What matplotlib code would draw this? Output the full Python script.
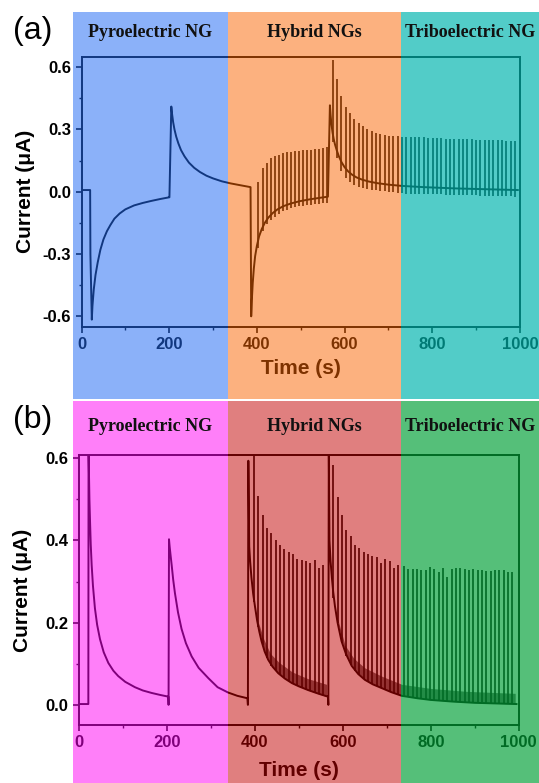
import matplotlib
matplotlib.use("Agg")
import matplotlib.pyplot as plt
from matplotlib.patches import Rectangle
from matplotlib.ticker import MultipleLocator, FormatStrFormatter

plt.rcParams['font.family'] = ['Liberation Sans', 'DejaVu Sans']
plt.rcParams['font.weight'] = 'bold'
plt.rcParams['axes.unicode_minus'] = False

# ---- panel (a): slow pyroelectric current (uA) vs time (s)
a_t = [0, 19.7, 20.3, 23.5, 25, 28, 32, 37, 43, 50, 58, 66, 75, 87, 100, 120,
       140, 160, 180, 200,
       200.5, 204.8, 206.5, 209, 212, 216, 221, 227, 235, 245, 257, 270, 285,
       300, 320, 340, 360, 385.5,
       387, 388.5, 390.5, 393, 396, 400, 405, 411, 418, 426, 436, 447, 460,
       477, 497, 520, 545, 562,
       566.5, 568, 570, 572.5, 575, 578, 582, 587, 593, 600, 608, 617, 627,
       640, 655, 675, 700, 730, 780, 850, 920, 995]
a_i = [0.008, 0.008, -0.3, -0.616, -0.55, -0.47, -0.40, -0.34, -0.28, -0.23,
       -0.19, -0.16, -0.13, -0.105, -0.085, -0.066, -0.054, -0.044, -0.035,
       -0.027,
       -0.027, 0.41, 0.375, 0.335, 0.30, 0.265, 0.232, 0.20, 0.17, 0.14,
       0.115, 0.095, 0.077, 0.064, 0.05, 0.04, 0.032, 0.022,
       -0.60, -0.52, -0.44, -0.37, -0.31, -0.26, -0.215, -0.18, -0.15, -0.125,
       -0.103, -0.085, -0.07, -0.057, -0.046, -0.037, -0.029, -0.024,
       0.416, 0.37, 0.325, 0.285, 0.255, 0.228, 0.20, 0.17, 0.142, 0.118,
       0.098, 0.082, 0.069, 0.058, 0.049, 0.041, 0.034, 0.028, 0.022, 0.016,
       0.012, 0.008]

# panel (a): triboelectric spikes (time, top, bottom)
a_spk_t = [403.2, 413.2, 422.3, 431.4, 441.3, 450.4, 459.5, 468.6, 477.7,
           486.9, 496.0, 505.0, 514.2, 523.3, 532.4, 541.6, 550.7, 559.0,
           572.8, 582.7, 592.6, 602.5, 612.4, 622.3, 632.2, 642.1, 652.0,
           661.9, 671.8, 681.7, 691.6, 701.5, 711.4, 721.3, 731.2, 741.1,
           751.0, 760.9, 770.8, 780.7, 790.6, 800.5, 810.4, 820.3, 830.2,
           840.1, 850.0, 859.9, 869.8, 879.7, 889.6, 899.5, 909.4, 919.3,
           929.2, 939.1, 949.0, 958.9, 968.8, 978.7, 988.6]
a_spk_hi = [0.048, 0.112, 0.139, 0.160, 0.171, 0.179, 0.184, 0.189, 0.192,
            0.195, 0.197, 0.200, 0.202, 0.203, 0.205, 0.206, 0.208, 0.213,
            0.632, 0.544, 0.461, 0.408, 0.381, 0.352, 0.331, 0.315, 0.301,
            0.291, 0.283, 0.277, 0.272, 0.269, 0.267, 0.266, 0.265,
            0.264, 0.264, 0.263, 0.262, 0.262, 0.260, 0.259, 0.258, 0.257,
            0.256, 0.256, 0.255, 0.254, 0.253, 0.252, 0.252, 0.251, 0.250,
            0.250, 0.249, 0.248, 0.248, 0.247, 0.246, 0.245, 0.244]
a_spk_lo = [-0.27, -0.19, -0.155, -0.135, -0.12, -0.105, -0.093, -0.087, -0.08,
            -0.075, -0.07, -0.068, -0.065, -0.062, -0.06, -0.058, -0.056, -0.054,
            0.24, 0.16, 0.10, 0.065, 0.047, 0.033, 0.024, 0.018, 0.013,
            0.010, 0.007, 0.005, 0.002, -0.001, -0.003, -0.005, -0.008,
            -0.009, -0.009, -0.010, -0.010, -0.011, -0.012, -0.012, -0.013,
            -0.013, -0.014, -0.015, -0.015, -0.016, -0.017, -0.017, -0.018,
            -0.018, -0.019, -0.020, -0.020, -0.021, -0.022, -0.022, -0.023,
            -0.023, -0.024]

# ---- panel (b): rectified output
b_t = [0, 21, 21.5, 22.5, 23.5, 24.8, 26.5, 28.6, 31.5, 36, 41, 47.5, 56,
       66.5, 78, 89, 105, 127, 145, 165, 185, 203, 203.5,
       204.5, 206, 208, 210.6, 214, 218, 225, 233, 243, 256, 272, 294, 315,
       339, 360, 383, 384,
       385, 387, 389, 392, 396, 400, 405, 410, 415, 422, 430, 440, 453, 468,
       484, 500, 521, 545, 566, 567,
       568, 569.5, 572, 575, 578, 582, 588, 597, 607, 620, 635, 650, 668,
       688, 710, 734, 770, 800, 850, 900, 995]
b_i = [0.002, 0.002, 0.62, 0.56, 0.50, 0.45, 0.39, 0.34, 0.29, 0.235, 0.195,
       0.16, 0.128, 0.102, 0.083, 0.07, 0.056, 0.043, 0.035, 0.029, 0.024,
       0.02, 0.0,
       0.403, 0.385, 0.365, 0.34, 0.305, 0.272, 0.225, 0.185, 0.15, 0.118,
       0.09, 0.065, 0.043, 0.03, 0.022, 0.016, 0.0,
       0.594, 0.385, 0.35, 0.31, 0.27, 0.24, 0.205, 0.178, 0.155, 0.13,
       0.11, 0.093, 0.077, 0.064, 0.053, 0.045, 0.036, 0.027, 0.02, 0.0,
       0.62, 0.40, 0.35, 0.31, 0.275, 0.24, 0.20, 0.155, 0.124, 0.095,
       0.075, 0.061, 0.05, 0.041, 0.031, 0.022, 0.016, 0.012, 0.008, 0.005,
       0.002]

b_spk_t = [398.6, 407.7, 417.6, 427.4, 437.3, 447.2, 457.0, 466.9, 476.8,
           486.6, 496.5, 506.4, 516.2, 526.1, 536.0, 545.8, 555.7,
           578.3, 588.2, 598.0, 607.9, 617.8, 627.6, 637.5, 647.4, 657.2,
           667.0, 677.0, 686.8, 696.6, 706.5, 716.4, 726.2,
           739.0, 748.9, 758.7, 768.6, 778.4, 788.3, 798.1, 808.0, 817.9,
           827.7, 837.6, 847.4, 857.3, 867.1, 877.0, 886.9, 896.7, 906.6,
           916.4, 926.3, 936.1, 946.0, 955.9, 965.7, 975.6, 985.4]
b_spk_hi = [0.62, 0.508, 0.462, 0.43, 0.418, 0.401, 0.389, 0.38, 0.373,
            0.367, 0.354, 0.353, 0.349, 0.345, 0.353, 0.333, 0.341,
            0.584, 0.505, 0.462, 0.426, 0.41, 0.389, 0.381, 0.373, 0.367,
            0.363, 0.359, 0.345, 0.355, 0.349, 0.333, 0.341,
            0.338, 0.330, 0.330, 0.330, 0.328, 0.327, 0.335, 0.330, 0.324,
            0.333, 0.312, 0.331, 0.333, 0.333, 0.330, 0.327, 0.330, 0.328,
            0.327, 0.326, 0.326, 0.327, 0.327, 0.328, 0.324, 0.324]
b_spk_lo = [0.25, 0.19, 0.145, 0.115, 0.095, 0.082, 0.073, 0.065, 0.057,
            0.051, 0.047, 0.043, 0.038, 0.034, 0.030, 0.027, 0.024,
            0.26, 0.2, 0.15, 0.118, 0.096, 0.082, 0.072, 0.063, 0.056,
            0.051, 0.046, 0.041, 0.036, 0.032, 0.028, 0.024,
            0.021, 0.020, 0.019, 0.017, 0.016, 0.015, 0.014, 0.013, 0.012,
            0.011, 0.010, 0.010, 0.009, 0.008, 0.008, 0.007, 0.007, 0.006,
            0.006, 0.005, 0.005, 0.004, 0.004, 0.003, 0.003, 0.003]

# dense small pulses just above the baseline in (b)
b_dense1_t = [408, 420, 435, 455, 485, 520, 563]
b_dense1_lo = [0.19, 0.135, 0.1, 0.075, 0.052, 0.036, 0.02]
b_dense1_hi = [0.20, 0.16, 0.125, 0.103, 0.08, 0.064, 0.05]
b_dense2_t = [588, 605, 625, 650, 688, 734, 800, 880, 992]
b_dense2_lo = [0.2, 0.128, 0.088, 0.061, 0.041, 0.022, 0.012, 0.006, 0.002]
b_dense2_hi = [0.21, 0.145, 0.113, 0.09, 0.07, 0.05, 0.04, 0.033, 0.028]

regions = ["Pyroelectric NG", "Hybrid NGs", "Triboelectric NG"]

W, H = 539, 783
fig = plt.figure(figsize=(W / 100, H / 100), dpi=100)
ax1 = fig.add_axes([81.5 / W, (H - 326.7) / H, 438.5 / W, 270 / H])
ax2 = fig.add_axes([79.1 / W, (H - 725) / H, 439.6 / W, 270 / H])

lw = 1.2
ax1.plot(a_t, a_i, color='k', lw=1.4)
ax1.vlines(a_spk_t, a_spk_lo, a_spk_hi, color='k', lw=lw)
ax2.plot(b_t, b_i, color='k', lw=1.4)
ax2.vlines(b_spk_t, b_spk_lo, b_spk_hi, color='k', lw=lw)
ax2.fill_between(b_dense1_t, b_dense1_lo, b_dense1_hi, color='k', alpha=0.6, lw=0)
ax2.fill_between(b_dense2_t, b_dense2_lo, b_dense2_hi, color='k', alpha=0.6, lw=0)

ax1.set_ylim(-0.65, 0.65)
ax1.yaxis.set_major_locator(MultipleLocator(0.3))
ax1.yaxis.set_minor_locator(MultipleLocator(0.15))
ax2.set_ylim(-0.049, 0.608)
ax2.yaxis.set_major_locator(MultipleLocator(0.2))
ax2.yaxis.set_minor_locator(MultipleLocator(0.1))

for ax, ylab_x, xlab_y in [(ax1, -0.127, -0.155), (ax2, -0.128, -0.167)]:
    ax.set_xlim(0, 1000)
    ax.xaxis.set_major_locator(MultipleLocator(200))
    ax.xaxis.set_minor_locator(MultipleLocator(100))
    ax.yaxis.set_major_formatter(FormatStrFormatter('%.1f'))
    ax.tick_params(which='major', direction='out', length=4, width=1.2,
                   labelsize=12, pad=3.5)
    ax.tick_params(which='minor', direction='out', length=2.2, width=1.0)
    for s in ax.spines.values():
        s.set_linewidth(1.4)
    ax.set_xlabel("Time (s)", fontsize=15, fontweight='bold', va='center')
    ax.set_ylabel("Current (\u03bcA)", fontsize=15, fontweight='bold', va='center')
    ax.xaxis.set_label_coords(0.5, xlab_y)
    ax.yaxis.set_label_coords(ylab_x, 0.5)

# translucent region overlays drawn over the plots
xs = [73.3 / W, 227.7 / W, 401.4 / W, 1.0]
top_band = ((H - 399) / H, (H - 12.3) / H)
bot_band = (0.0, (H - 400.5) / H)
top_cols = [((34, 107, 245), 0.52), ((251, 101, 1), 0.50), ((0, 181, 174), 0.68)]
bot_cols = [((255, 1, 245), 0.50), ((195, 0, 0), 0.50), ((1, 160, 55), 0.67)]
for (y0, y1), cols, ty in [(top_band, top_cols, (H - 32.5) / H),
                           (bot_band, bot_cols, (H - 426.5) / H)]:
    for k, ((r, g, b), al) in enumerate(cols):
        fig.add_artist(Rectangle((xs[k], y0), xs[k + 1] - xs[k], y1 - y0,
                                 transform=fig.transFigure,
                                 facecolor=(r / 255, g / 255, b / 255),
                                 alpha=al, lw=0, zorder=5))
        fig.text((xs[k] + xs[k + 1]) / 2, ty, regions[k], ha='center', va='center',
                 family=['Liberation Serif', 'DejaVu Serif'], fontsize=13,
                 fontweight='bold', color='#111111', zorder=6)

fig.text(33 / W, (H - 31) / H, "(a)", fontsize=23, fontweight='normal',
         ha='center', va='center')
fig.text(33 / W, (H - 420) / H, "(b)", fontsize=23, fontweight='normal',
         ha='center', va='center')

fig.savefig("out.png", dpi=100)
